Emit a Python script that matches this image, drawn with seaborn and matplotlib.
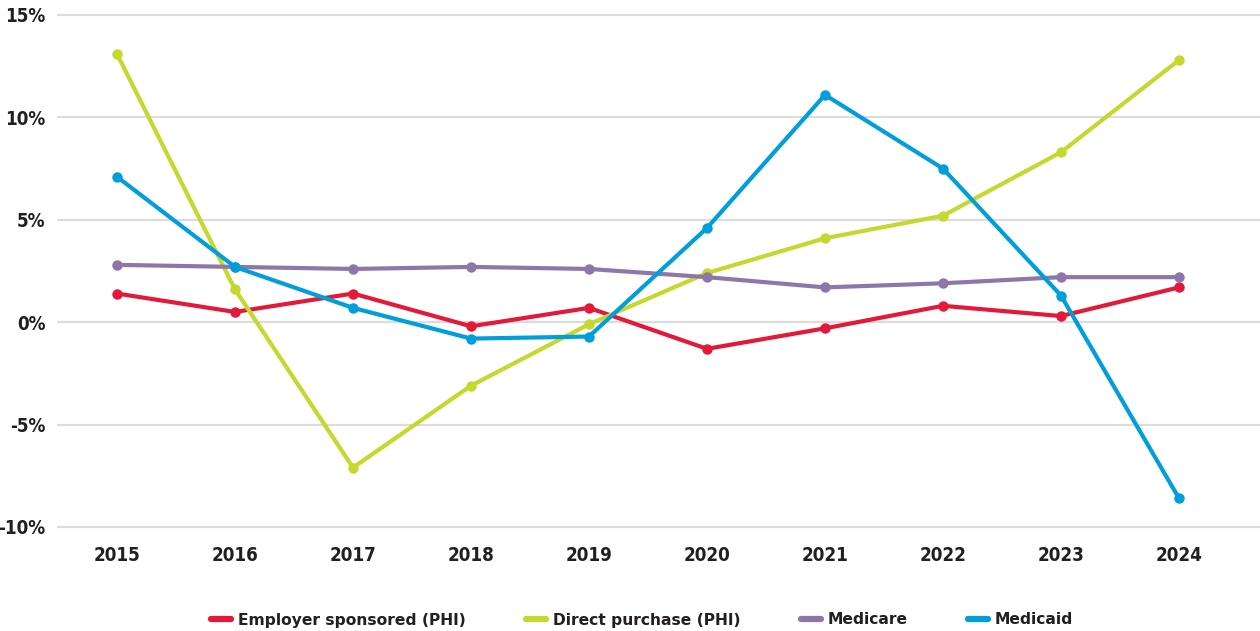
import matplotlib
matplotlib.use("Agg")
import matplotlib.pyplot as plt
import matplotlib.font_manager as fm
import seaborn as sns
import pandas as pd
from matplotlib.lines import Line2D

years = ["2015", "2016", "2017", "2018", "2019", "2020", "2021", "2022", "2023", "2024"]
employer = [1.4, 0.5, 1.4, -0.2, 0.7, -1.3, -0.3, 0.8, 0.3, 1.7]
direct = [13.1, 1.6, -7.1, -3.1, -0.1, 2.4, 4.1, 5.2, 8.3, 12.8]
medicare = [2.8, 2.7, 2.6, 2.7, 2.6, 2.2, 1.7, 1.9, 2.2, 2.2]
medicaid = [7.1, 2.7, 0.7, -0.8, -0.7, 4.6, 11.1, 7.5, 1.3, -8.6]
series_names = ["Employer sponsored (PHI)", "Direct purchase (PHI)", "Medicare", "Medicaid"]
colors = ["#E4193A", "#C4D82E", "#8F76AA", "#009FDB"]
yticks = [-10, -5, 0, 5, 10, 15]
ytick_labels = ["-10%", "-5%", "0%", "5%", "10%", "15%"]

sns.set_theme(style="white")
plt.rcParams['font.family'] = ['DejaVu Sans']

rows = []
for name, vals in zip(series_names, [employer, direct, medicare, medicaid]):
    for i, v in enumerate(vals):
        rows.append({"idx": i, "val": v, "series": name})
df = pd.DataFrame(rows)

fig = plt.figure(figsize=(12.6, 6.31), dpi=100)
ax = fig.add_axes([58/1260, 1-527/631, 1-58/1260, (527-15)/631])

for y in yticks:
    ax.axhline(y, color="#dcdcdc", lw=1.6, zorder=0, clip_on=False)

sns.lineplot(data=df, x="idx", y="val", hue="series", hue_order=series_names,
             palette=colors, marker="o", markersize=7.5, markeredgewidth=0,
             linewidth=3.0, ax=ax, legend=False, sort=False)
for ln in ax.lines:
    ln.set_solid_capstyle("round")
    ln.set_clip_on(False)

ax.set_xlim(-0.5, (1260-117)/118)
ax.set_ylim(-10, 15)
ax.set_xticks(range(len(years)))
tick_fp = fm.FontProperties(family="DejaVu Sans", stretch="condensed", weight="bold", size=13.5)
ax.set_xticklabels(years, fontproperties=tick_fp, color="#231f20")
ax.set_yticks(yticks)
ax.set_yticklabels(ytick_labels, fontproperties=tick_fp, color="#231f20")
ax.tick_params(axis="x", length=0, pad=14)
ax.tick_params(axis="y", length=0, pad=9)
for s in ax.spines.values():
    s.set_visible(False)
ax.set_xlabel("")
ax.set_ylabel("")

handles = [Line2D([0], [0], color=c, lw=4.5, solid_capstyle="round") for c in colors]
fig.legend(handles, series_names, loc="center", bbox_to_anchor=(642/1260, 1-620/631),
           ncol=4, frameon=False, handlelength=1.3, handletextpad=0.4, columnspacing=3.9,
           prop={"family": "DejaVu Sans", "weight": "bold", "size": 11.2})
for t in fig.legends[0].get_texts():
    t.set_color("#231f20")

fig.savefig("out.png", dpi=100)
